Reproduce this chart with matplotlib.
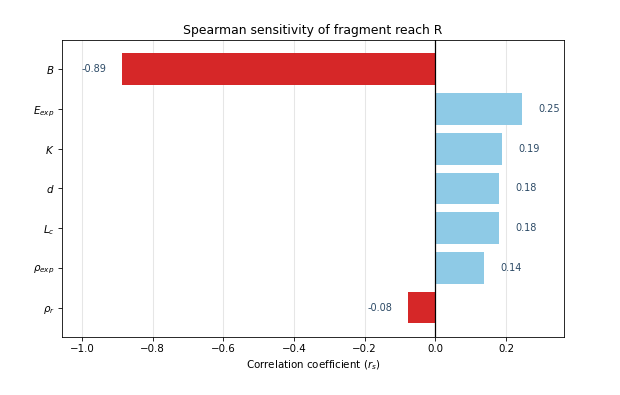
import matplotlib
matplotlib.use("Agg")
import matplotlib.pyplot as plt
import numpy as np

# parameters and their spearman coefficients
params = [r"$B$", r"$E_{exp}$", r"$K$", r"$d$", r"$L_c$", r"$\rho_{exp}$", r"$\rho_r$"]
rs = [-0.887, 0.246, 0.19, 0.181, 0.181, 0.139, -0.076]

colors = ["#d62728" if v < 0 else "#8ecae6" for v in rs]

# drawn at a lower dpi so default text sizes come out like the original
fig, ax = plt.subplots(figsize=(620 / 74, 395 / 74), dpi=74)
fig.subplots_adjust(left=0.1, right=0.91, top=0.899, bottom=0.147)

y = np.arange(len(params))
ax.barh(y, rs, color=colors, height=0.8, zorder=2)
ax.set_yticks(y)
ax.set_yticklabels(params)
ax.invert_yaxis()

ax.axvline(0, color="black", lw=1.2, zorder=3)
ax.grid(axis="x", color="#e6e6e6", lw=1, zorder=0)
ax.set_axisbelow(True)

for yi, v in zip(y, rs):
    if v < 0:
        ax.text(v - 0.045, yi, f"{v:.2f}", va="center", ha="right", fontsize=9.5, color="#2c4a66")
    else:
        ax.text(v + 0.045, yi, f"{v:.2f}", va="center", ha="left", fontsize=9.5, color="#2c4a66")

ax.set_xlim(-1.057, 0.365)
ax.set_xlabel(r"Correlation coefficient ($r_s$)")
ax.set_title("Spearman sensitivity of fragment reach R")

fig.savefig("out.png", dpi=74)
